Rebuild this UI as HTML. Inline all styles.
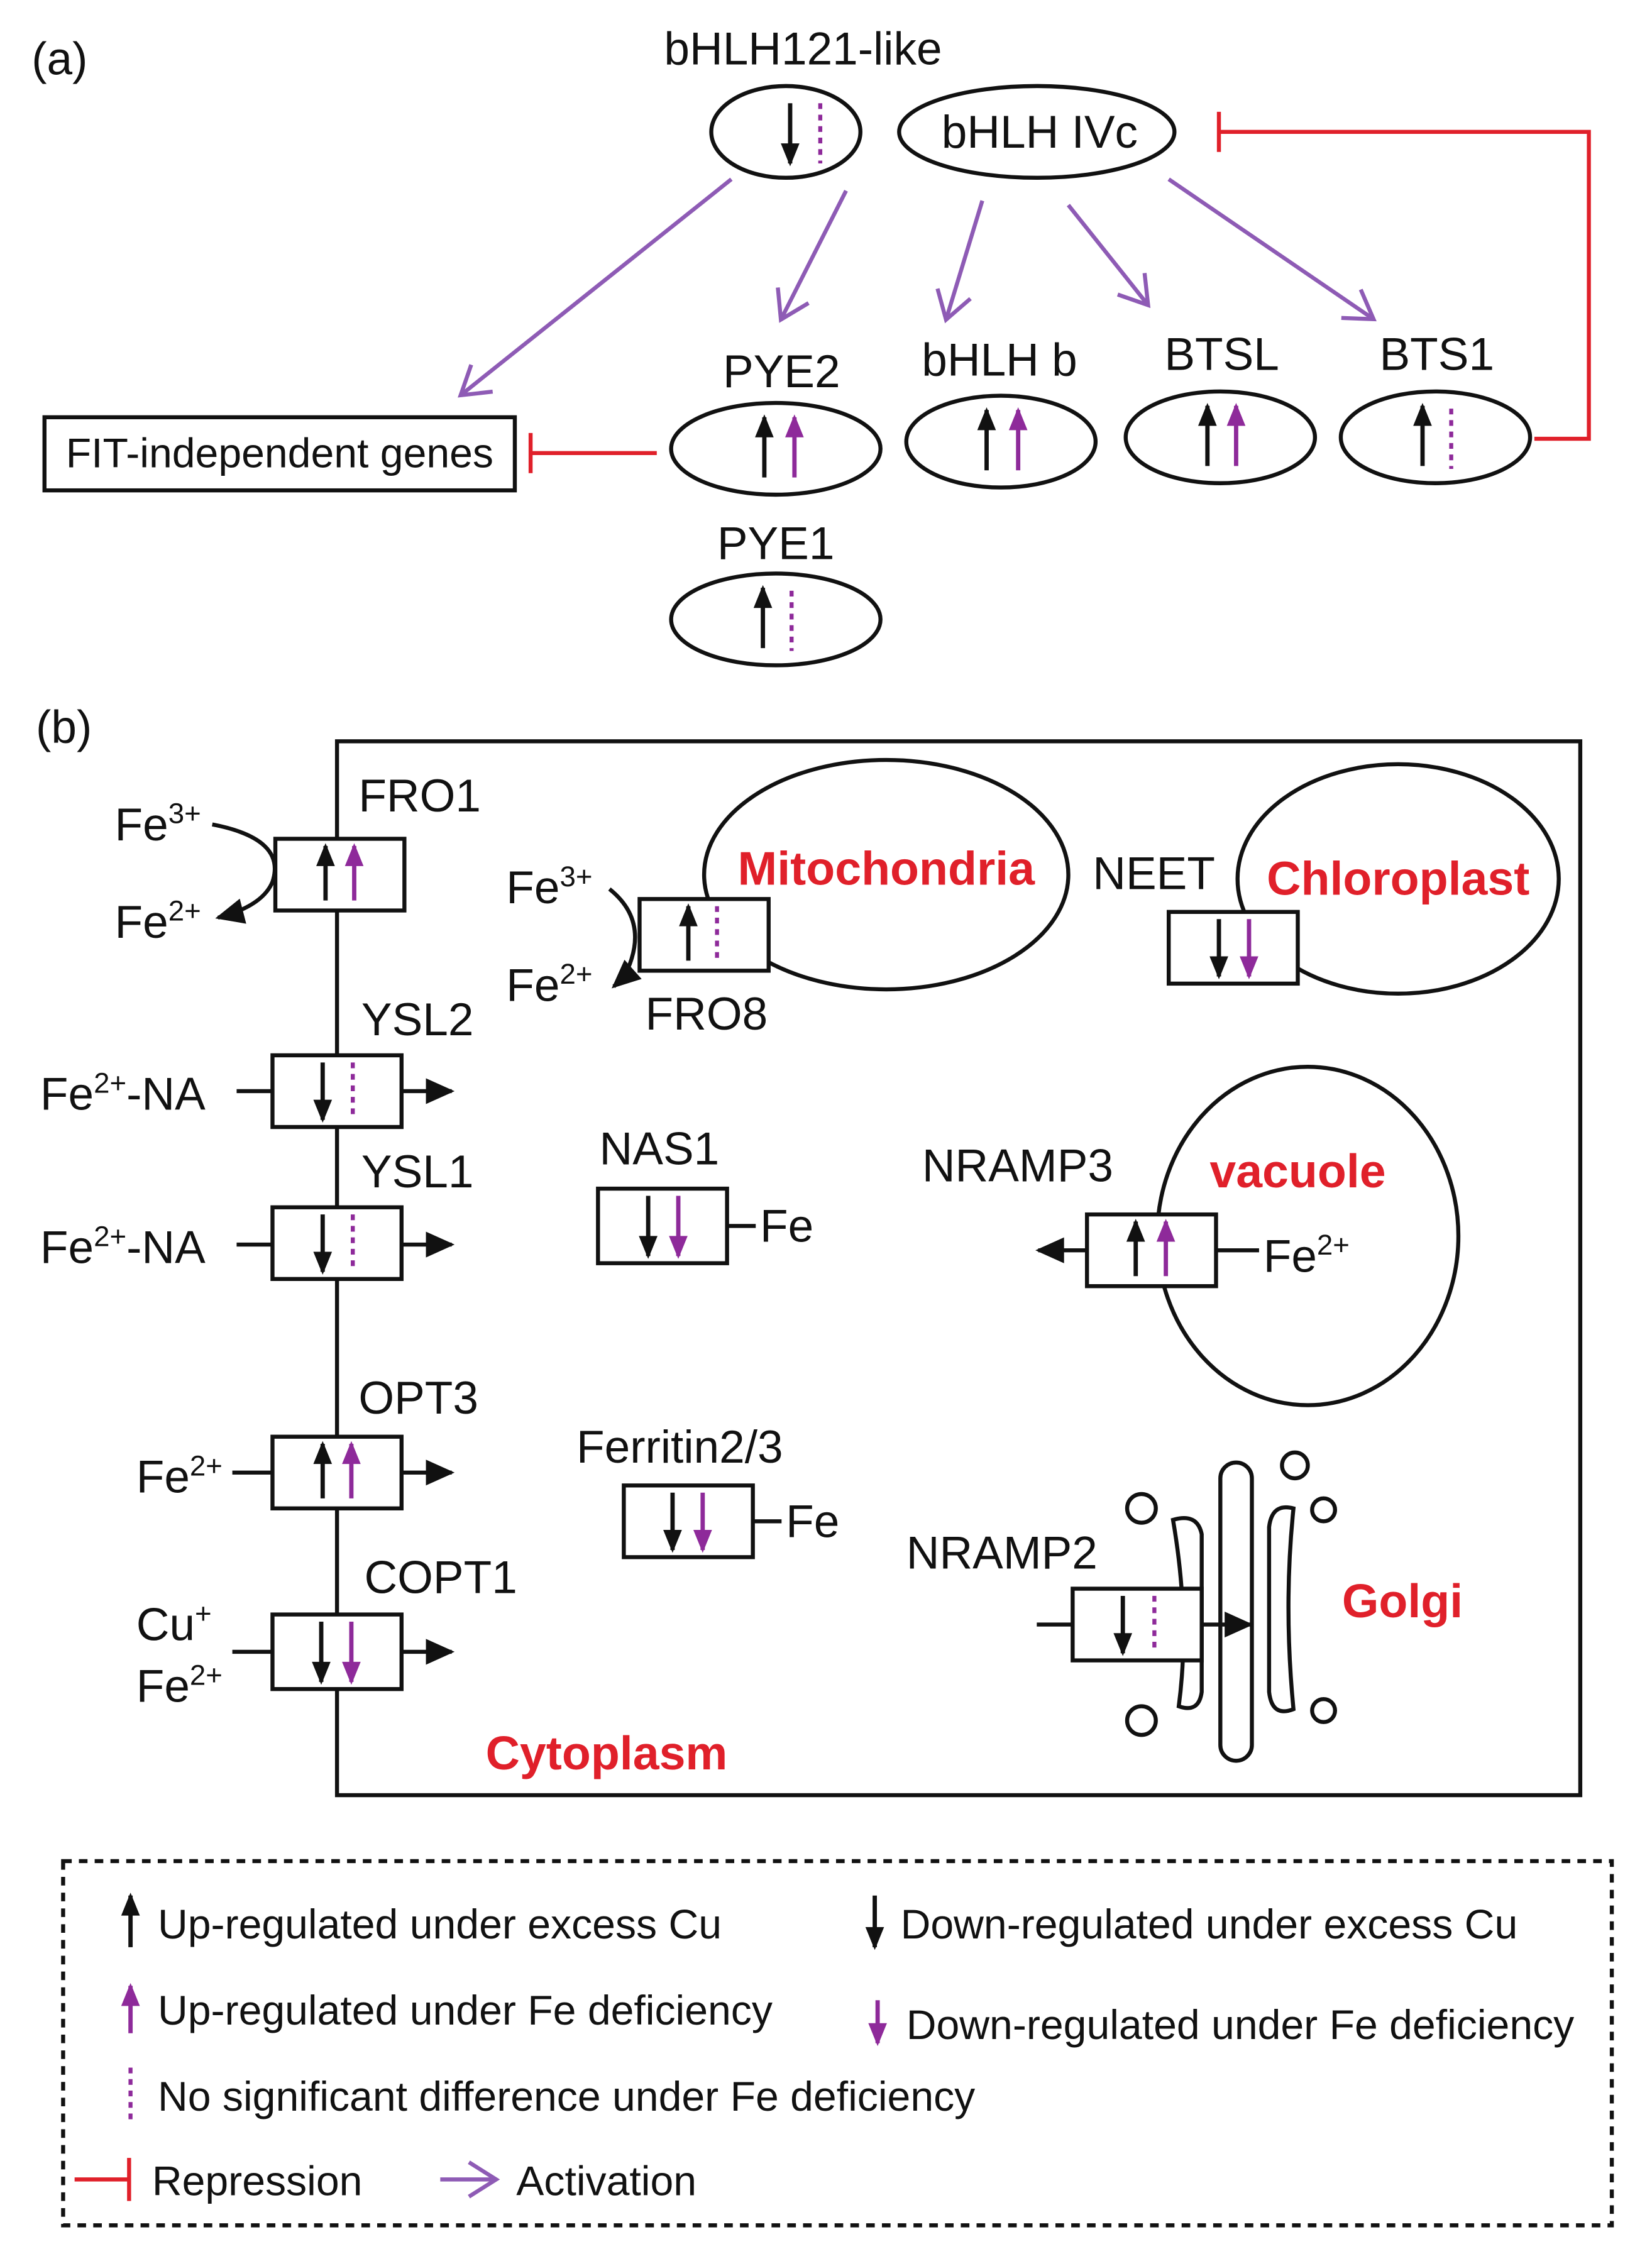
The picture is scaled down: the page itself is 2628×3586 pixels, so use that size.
<!DOCTYPE html>
<html><head><meta charset="utf-8"><style>
html,body{margin:0;padding:0;background:#fff;}
svg{display:block;}
text{font-family:"Liberation Sans",Arial,sans-serif;font-size:32px;fill:#111;}
.r{fill:#e0202a;font-weight:bold;font-size:33px;}
</style></head><body>
<svg width="2628" height="3586" viewBox="0 0 1152 1572" xmlns="http://www.w3.org/2000/svg">
<defs>
<marker id="hb" markerWidth="20" markerHeight="20" refX="14" refY="7" orient="auto" markerUnits="userSpaceOnUse" overflow="visible"><path d="M0,0.5 L16,7 L0,13.5 Z" fill="#111"/></marker>
<marker id="hp" markerWidth="20" markerHeight="20" refX="14" refY="7" orient="auto" markerUnits="userSpaceOnUse" overflow="visible"><path d="M0,0.5 L16,7 L0,13.5 Z" fill="#8e2a9a"/></marker>
<marker id="hbig" markerWidth="22" markerHeight="22" refX="18" refY="9" orient="auto" markerUnits="userSpaceOnUse" overflow="visible"><path d="M0,0 L20,9 L0,18 Z" fill="#111"/></marker>
<marker id="ha" markerWidth="30" markerHeight="30" refX="0" refY="0" orient="auto" markerUnits="userSpaceOnUse" overflow="visible"><path d="M-18,-12 L1,0 L-18,12" fill="none" stroke="#8e5bb5" stroke-width="2.8"/></marker>
</defs>
<g fill="none" stroke="#111" stroke-width="2.8">
<ellipse cx="548" cy="92" rx="52" ry="32"/>
<ellipse cx="723" cy="92" rx="96" ry="32"/>
<ellipse cx="541" cy="313" rx="73" ry="32"/>
<ellipse cx="698" cy="308" rx="66" ry="32"/>
<ellipse cx="851" cy="305" rx="66" ry="32"/>
<ellipse cx="1001" cy="305" rx="66" ry="32"/>
<ellipse cx="541" cy="432" rx="73" ry="32"/>
<rect x="31" y="291" width="328" height="51"/>
<rect x="235" y="517" width="867" height="735"/>
<ellipse cx="618" cy="610" rx="127" ry="80"/>
<ellipse cx="975" cy="613" rx="112" ry="80"/>
<ellipse cx="912" cy="862" rx="105" ry="118"/>
<rect x="851" y="1020" width="22" height="208" rx="11"/>
<path d="M818,1060 Q835,1055 838,1070 L838,1180 Q836,1195 822,1190 Q830,1130 818,1060 Z"/>
<path d="M902,1052 Q887,1048 885,1065 L885,1180 Q887,1198 902,1192 Q895,1120 902,1052 Z"/>
<circle cx="796" cy="1052" r="10"/><circle cx="903" cy="1022" r="9"/><circle cx="923" cy="1053" r="8"/><circle cx="796" cy="1200" r="10"/><circle cx="923" cy="1193" r="8"/>
</g>
<g fill="#fff" stroke="#111" stroke-width="2.8">
<rect x="192" y="585" width="90" height="50"/>
<rect x="446" y="627" width="90" height="50"/>
<rect x="815" y="636" width="90" height="50"/>
<rect x="190" y="736" width="90" height="50"/>
<rect x="190" y="842" width="90" height="50"/>
<rect x="417" y="829" width="90" height="52"/>
<rect x="758" y="847" width="90" height="50"/>
<rect x="190" y="1002" width="90" height="50"/>
<rect x="435" y="1036" width="90" height="50"/>
<rect x="190" y="1126" width="90" height="52"/>
<rect x="748" y="1108" width="90" height="50"/>
</g>
<g stroke="#e0202a" stroke-width="2.8" fill="none">
<path d="M1070,306 L1108,306 L1108,92 L850,92"/><path d="M850,78 L850,106"/>
<path d="M458,316 L370,316"/><path d="M370,302 L370,330"/>
<path d="M52,1520 L90,1520"/><path d="M90,1505 L90,1535"/>
</g>
<g stroke="#8e5bb5" stroke-width="2.8" marker-end="url(#ha)">
<line x1="510" y1="125" x2="322" y2="275"/>
<line x1="590" y1="133" x2="545" y2="222"/>
<line x1="685" y1="140" x2="660" y2="222"/>
<line x1="745" y1="143" x2="800" y2="212"/>
<line x1="815" y1="125" x2="957" y2="222"/>
<line x1="307" y1="1520" x2="345" y2="1520"/>
</g>
<g stroke="#111" stroke-width="3" marker-end="url(#hb)">
<line x1="551" y1="72" x2="551" y2="114"/>
<line x1="533" y1="333" x2="533" y2="291"/>
<line x1="688" y1="328" x2="688" y2="286"/>
<line x1="842" y1="325" x2="842" y2="283"/>
<line x1="992" y1="325" x2="992" y2="283"/>
<line x1="532" y1="452" x2="532" y2="410"/>
<line x1="227" y1="628" x2="227" y2="590"/>
<line x1="480" y1="670" x2="480" y2="632"/>
<line x1="850" y1="641" x2="850" y2="681"/>
<line x1="225" y1="741" x2="225" y2="781"/>
<line x1="225" y1="847" x2="225" y2="887"/>
<line x1="452" y1="834" x2="452" y2="876"/>
<line x1="792" y1="890" x2="792" y2="852"/>
<line x1="225" y1="1045" x2="225" y2="1007"/>
<line x1="469" y1="1041" x2="469" y2="1081"/>
<line x1="224" y1="1131" x2="224" y2="1173"/>
<line x1="783" y1="1113" x2="783" y2="1153"/>
<line x1="91" y1="1358" x2="91" y2="1322"/>
<line x1="610" y1="1322" x2="610" y2="1358"/>
</g>
<g stroke="#8e2a9a" stroke-width="3" marker-end="url(#hp)">
<line x1="554" y1="333" x2="554" y2="291"/>
<line x1="710" y1="328" x2="710" y2="286"/>
<line x1="862" y1="325" x2="862" y2="283"/>
<line x1="247" y1="628" x2="247" y2="590"/>
<line x1="871" y1="641" x2="871" y2="681"/>
<line x1="473" y1="834" x2="473" y2="876"/>
<line x1="813" y1="890" x2="813" y2="852"/>
<line x1="245" y1="1045" x2="245" y2="1007"/>
<line x1="490" y1="1041" x2="490" y2="1081"/>
<line x1="245" y1="1131" x2="245" y2="1173"/>
<line x1="91" y1="1418" x2="91" y2="1385"/>
<line x1="612" y1="1395" x2="612" y2="1425"/>
</g>
<g stroke="#8e2a9a" stroke-width="2.8" stroke-dasharray="4,4">
<line x1="572" y1="72" x2="572" y2="114"/>
<line x1="1012" y1="285" x2="1012" y2="327"/>
<line x1="552" y1="412" x2="552" y2="454"/>
<line x1="500" y1="632" x2="500" y2="672"/>
<line x1="246" y1="741" x2="246" y2="781"/>
<line x1="246" y1="847" x2="246" y2="887"/>
<line x1="805" y1="1113" x2="805" y2="1153"/>
<line x1="91" y1="1442" x2="91" y2="1480"/>
</g>
<g stroke="#111" stroke-width="2.8" fill="none">
<path d="M148,575 Q200,585 190,615 Q183,632 152,640" marker-end="url(#hbig)"/>
<path d="M425,620 Q450,640 440,670 Q437,680 428,688" marker-end="url(#hbig)"/>
<line x1="165" y1="761" x2="190" y2="761"/><line x1="280" y1="761" x2="315" y2="761" marker-end="url(#hbig)"/>
<line x1="165" y1="868" x2="190" y2="868"/><line x1="280" y1="868" x2="315" y2="868" marker-end="url(#hbig)"/>
<line x1="507" y1="855" x2="527" y2="855"/>
<line x1="848" y1="872" x2="878" y2="872"/><line x1="758" y1="872" x2="724" y2="872" marker-end="url(#hbig)"/>
<line x1="162" y1="1027" x2="190" y2="1027"/><line x1="280" y1="1027" x2="315" y2="1027" marker-end="url(#hbig)"/>
<line x1="525" y1="1061" x2="545" y2="1061"/>
<line x1="162" y1="1152" x2="190" y2="1152"/><line x1="280" y1="1152" x2="315" y2="1152" marker-end="url(#hbig)"/>
<line x1="723" y1="1133" x2="748" y2="1133"/><line x1="838" y1="1133" x2="872" y2="1133" marker-end="url(#hbig)"/>
</g>
<rect x="44" y="1298" width="1080" height="254" fill="none" stroke="#111" stroke-width="2.8" stroke-dasharray="6,5"/>
<text x="22" y="52">(a)</text>
<text x="560" y="45" text-anchor="middle">bHLH121-like</text>
<text x="725" y="103" text-anchor="middle">bHLH IVc</text>
<text x="545" y="270" text-anchor="middle">PYE2</text>
<text x="697" y="262" text-anchor="middle">bHLH b</text>
<text x="852" y="258" text-anchor="middle">BTSL</text>
<text x="1002" y="258" text-anchor="middle">BTS1</text>
<text x="195" y="326" text-anchor="middle" style="font-size:29px">FIT-independent genes</text>
<text x="541" y="390" text-anchor="middle">PYE1</text>
<text x="25" y="518">(b)</text>
<text x="250" y="566">FRO1</text>
<text x="80" y="586">Fe<tspan dy="-12" style="font-size:20px">3+</tspan></text>
<text x="80" y="654">Fe<tspan dy="-12" style="font-size:20px">2+</tspan></text>
<text x="618" y="617" text-anchor="middle" class="r">Mitochondria</text>
<text x="353" y="630">Fe<tspan dy="-12" style="font-size:20px">3+</tspan></text>
<text x="353" y="698">Fe<tspan dy="-12" style="font-size:20px">2+</tspan></text>
<text x="450" y="718">FRO8</text>
<text x="762" y="620">NEET</text>
<text x="975" y="624" text-anchor="middle" class="r">Chloroplast</text>
<text x="252" y="722">YSL2</text>
<text x="28" y="774">Fe<tspan dy="-12" style="font-size:20px">2+</tspan><tspan dy="12">-NA</tspan></text>
<text x="252" y="828">YSL1</text>
<text x="28" y="881">Fe<tspan dy="-12" style="font-size:20px">2+</tspan><tspan dy="12">-NA</tspan></text>
<text x="418" y="812">NAS1</text>
<text x="530" y="866">Fe</text>
<text x="643" y="824">NRAMP3</text>
<text x="905" y="828" text-anchor="middle" class="r">vacuole</text>
<text x="881" y="887">Fe<tspan dy="-12" style="font-size:20px">2+</tspan></text>
<text x="250" y="986">OPT3</text>
<text x="95" y="1041">Fe<tspan dy="-12" style="font-size:20px">2+</tspan></text>
<text x="402" y="1020">Ferritin2/3</text>
<text x="548" y="1072">Fe</text>
<text x="254" y="1111">COPT1</text>
<text x="95" y="1144">Cu<tspan dy="-12" style="font-size:20px">+</tspan></text>
<text x="95" y="1187">Fe<tspan dy="-12" style="font-size:20px">2+</tspan></text>
<text x="632" y="1094">NRAMP2</text>
<text x="978" y="1128" text-anchor="middle" class="r">Golgi</text>
<text x="423" y="1234" text-anchor="middle" class="r">Cytoplasm</text>
<text x="110" y="1352" style="font-size:29px">Up-regulated under excess Cu</text>
<text x="628" y="1352" style="font-size:29px">Down-regulated under excess Cu</text>
<text x="110" y="1412" style="font-size:29px">Up-regulated under Fe deficiency</text>
<text x="632" y="1422" style="font-size:29px">Down-regulated under Fe deficiency</text>
<text x="110" y="1472" style="font-size:29px">No significant difference under Fe deficiency</text>
<text x="106" y="1531" style="font-size:29px">Repression</text>
<text x="360" y="1531" style="font-size:29px">Activation</text>
</svg>
</body></html>
